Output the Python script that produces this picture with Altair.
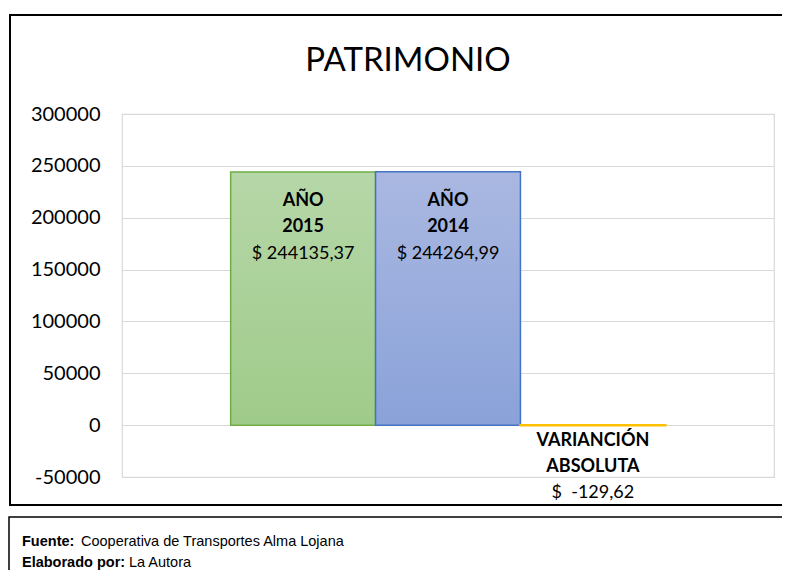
import altair as alt
import pandas as pd

categories = ["AÑO 2015", "AÑO 2014", "VARIANCIÓN ABSOLUTA"]
values = [244135.37, 244264.99, -129.62]
bold_labels = ["AÑO\n2015", "AÑO\n2014", "VARIANCIÓN\nABSOLUTA"]
value_labels = ["$ 244135,37", "$ 244264,99", "$\u00a0 -129,62"]
y_ticks = [-50000, 0, 50000, 100000, 150000, 200000, 250000, 300000]
title_text = "PATRIMONIO"
footer_bold = ["Fuente:", "Elaborado por:"]
footer_regular = ["Cooperativa de Transportes Alma Lojana", "La Autora"]

df = pd.DataFrame({"cat": categories, "val": values,
                   "bold": bold_labels, "money": value_labels})

FONT = "Lato, Open Sans, sans-serif"
FOOT = "Liberation Sans, Arial, sans-serif"

W, H = 652, 363
x = alt.X("cat:N", sort=categories, axis=None,
          scale=alt.Scale(paddingInner=0, paddingOuter=0.75))
y = alt.Y("val:Q", scale=alt.Scale(domain=[-50000, 300000], nice=False, zero=False),
          axis=alt.Axis(values=y_ticks, title=None, domain=False, ticks=False,
                        labelPadding=22, labelFontSize=20, labelFont=FONT,
                        labelColor="#000000", gridColor="#d9d9d9", gridWidth=1.2,
                        format="d", labelExpr="replace(datum.label, '−', '-')"))

base = alt.Chart(df)

green = base.transform_filter(alt.datum.cat == categories[0]).mark_bar(
    fill=alt.Gradient(gradient="linear", x1=0, y1=0, x2=0, y2=1,
                      stops=[alt.GradientStop(color="#b6d7a8", offset=0),
                             alt.GradientStop(color="#9fcb8a", offset=1)]),
    stroke="#70ad47", strokeWidth=1.5).encode(x=x, y=y)
blue = base.transform_filter(alt.datum.cat == categories[1]).mark_bar(
    fill=alt.Gradient(gradient="linear", x1=0, y1=0, x2=0, y2=1,
                      stops=[alt.GradientStop(color="#aab8e1", offset=0),
                             alt.GradientStop(color="#8aa2d9", offset=1)]),
    stroke="#4472c4", strokeWidth=1.5).encode(x=x, y=y)
yellow = base.transform_filter(alt.datum.cat == categories[2]).mark_bar(
    fill="#ffc000", stroke="#ffc000", strokeWidth=2.5).encode(x=x, y=y)

pos = base.transform_filter(alt.datum.val > 0)
neg = base.transform_filter(alt.datum.val < 0)

pos_bold = pos.mark_text(font=FONT, fontSize=18, fontWeight="bold", baseline="top",
                         lineBreak="\n", lineHeight=26, dy=20, color="#000").encode(
    x=x, y=y, text="bold:N")
pos_money = pos.mark_text(font=FONT, fontSize=18, baseline="top", dy=73,
                          color="#000").encode(x=x, y=y, text="money:N")
neg_bold = neg.mark_text(font=FONT, fontSize=18, fontWeight="bold", baseline="top",
                         lineBreak="\n", lineHeight=25.5, dy=7, color="#000").encode(
    x=x, y=y, text="bold:N")
neg_money = neg.mark_text(font=FONT, fontSize=18, baseline="top", dy=59,
                          color="#000").encode(x=x, y=y, text="money:N")

# decorative frames, title and footer (pixel positions relative to plot area)
deco = pd.DataFrame({"k": [0]})
outer_box = alt.Chart(deco).mark_rect(fill=None, stroke="#000", strokeWidth=2).encode(
    x=alt.value(-112), x2=alt.value(700), y=alt.value(-99), y2=alt.value(391))
footer_box = alt.Chart(deco).mark_rect(fill=None, stroke="#000", strokeWidth=1.5).encode(
    x=alt.value(-113), x2=alt.value(700), y=alt.value(403), y2=alt.value(480))
title = alt.Chart(deco).mark_text(text=title_text, font=FONT, fontSize=33,
                                  baseline="middle", align="center", color="#000").encode(
    x=alt.value(286), y=alt.value(-53))

def ftext(txt, xv, yv, bold):
    return alt.Chart(deco).mark_text(text=txt, font=FOOT, fontSize=14.5,
                                     fontWeight="bold" if bold else "normal",
                                     align="left", baseline="middle", color="#000").encode(
        x=alt.value(xv), y=alt.value(yv))

footer = [
    ftext(footer_bold[0], -100, 428, True),
    ftext(footer_regular[0], -41, 428, False),
    ftext(footer_bold[1], -100, 449, True),
    ftext(footer_regular[1], 7, 449, False),
]

chart = alt.layer(green, blue, yellow, pos_bold, pos_money, neg_bold, neg_money,
                  outer_box, footer_box, title, *footer).properties(
    width=W, height=H,
    autosize=alt.AutoSizeParams(type="none"),
    padding={"left": 114, "top": 106, "right": 8, "bottom": 93},
    background="#ffffff",
).configure_view(stroke="#d9d9d9", strokeWidth=1.2)

chart.save("out.html", embed_options={"renderer": "svg", "actions": False})
